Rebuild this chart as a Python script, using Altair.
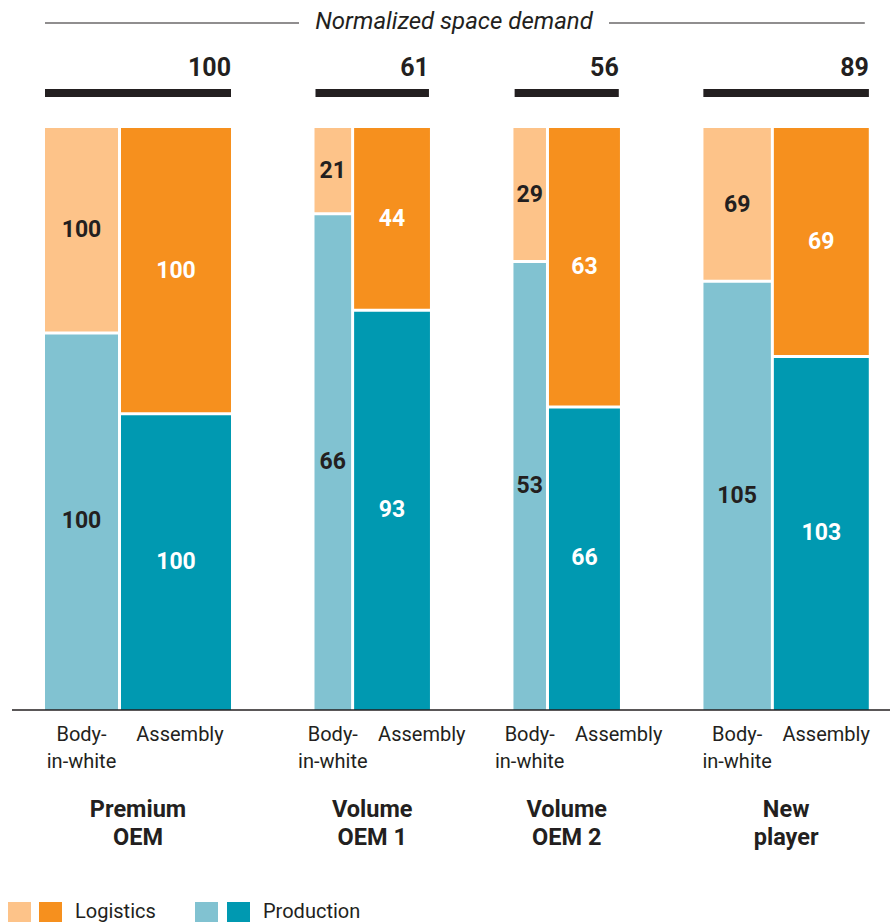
import altair as alt
import pandas as pd

# ---------------- data ----------------
groups = ["Premium OEM", "Volume OEM 1", "Volume OEM 2", "New player"]
group_line1 = ["Premium", "Volume", "Volume", "New"]
group_line2 = ["OEM", "OEM 1", "OEM 2", "player"]
totals = [100, 61, 56, 89]
biw_production = [100, 66, 53, 105]
biw_logistics = [100, 21, 29, 69]
asm_production = [100, 93, 66, 103]
asm_logistics = [100, 44, 63, 69]
# absolute space of the premium OEM (index = 100), read from the rectangle areas
premium_space = {"biw_prod": 47.3, "biw_log": 25.7, "asm_prod": 56.0, "asm_log": 54.0}
process_line1 = ["Body-", "Assembly"]
process_line2 = ["in-white", ""]
legend_labels = ["Logistics", "Production"]

# ---------------- style / layout ----------------
FONT = "Roboto"
DARK = "#231f20"
COL = {"biw_log": "#fdc389", "asm_log": "#f6901e", "biw_prod": "#81c2d1", "asm_prod": "#0099b1"}
W, H = 890, 922
X_START = 45
BAR_GAP = 3
GROUP_GAP = 83.5
Y_TOP, Y_BOT = 128, 710
SEG_GAP = 3 / (Y_BOT - Y_TOP)

rects, segtext, procs, grps = [], [], [], []
x = X_START
for i, g in enumerate(groups):
    bp = biw_production[i] * premium_space["biw_prod"] / 100
    bl = biw_logistics[i] * premium_space["biw_log"] / 100
    ap = asm_production[i] * premium_space["asm_prod"] / 100
    al = asm_logistics[i] * premium_space["asm_log"] / 100
    bw, aw = bp + bl, ap + al
    bx0, bx1 = x, x + bw
    ax0, ax1 = bx1 + BAR_GAP, bx1 + BAR_GAP + aw
    for (x0, x1, prod, log, kp, kl, tc, vp, vl) in [
        (bx0, bx1, bp, bl, "biw_prod", "biw_log", DARK, biw_production[i], biw_logistics[i]),
        (ax0, ax1, ap, al, "asm_prod", "asm_log", "white", asm_production[i], asm_logistics[i]),
    ]:
        f = prod / (prod + log)
        rects.append(dict(x0=x0, x1=x1, y0=0, y1=f - SEG_GAP / 2, key=kp))
        rects.append(dict(x0=x0, x1=x1, y0=f + SEG_GAP / 2, y1=1, key=kl))
        segtext.append(dict(xc=(x0 + x1) / 2, ym=f / 2, label=str(vp), tc=tc))
        segtext.append(dict(xc=(x0 + x1) / 2, ym=(f + 1) / 2, label=str(vl), tc=tc))
    bc = (bx0 + bx1) / 2
    ac = max((ax0 + ax1) / 2 + 4, bc + 89)
    procs.append(dict(xc=bc, l1=process_line1[0], l2=process_line2[0]))
    procs.append(dict(xc=ac, l1=process_line1[1], l2=process_line2[1]))
    grps.append(dict(g=g, gx0=bx0, gx1=ax1, gc=(bx0 + ax1) / 2,
                     l1=group_line1[i], l2=group_line2[i], total=totals[i]))
    x = ax1 + GROUP_GAP

rect_df = pd.DataFrame(rects)
seg_df = pd.DataFrame(segtext)
proc_df = pd.DataFrame(procs)
grp_df = pd.DataFrame(grps)
ref_w = grp_df.gx1[0] - grp_df.gx0[0]
grp_df["bw"] = grp_df.total / totals[0] * ref_w
grp_df["tb0"] = grp_df.gc - grp_df.bw / 2
grp_df["tb1"] = grp_df.gc + grp_df.bw / 2

x_left, x_right = grp_df.gx0.min(), grp_df.gx1.max() - 4
title_c = 454
title_df = pd.DataFrame([dict(x=title_c, t="Normalized space demand")])
tline_df = pd.DataFrame([dict(a=x_left, b=title_c - 155), dict(a=title_c + 155, b=x_right)])
base_df = pd.DataFrame([dict(a=12, b=W)])

leg_sq = pd.DataFrame([
    dict(a=8, b=31, key="biw_log"), dict(a=39, b=62, key="asm_log"),
    dict(a=195, b=218, key="biw_prod"), dict(a=227, b=250, key="asm_prod"),
])
leg_tx = pd.DataFrame([dict(x=75, t=legend_labels[0]), dict(x=263, t=legend_labels[1])])

xs = alt.Scale(domain=[0, W], nice=False, zero=False)
ys = alt.Scale(domain=[0, 1], range=[Y_BOT, Y_TOP], nice=False, zero=False)
cs = alt.Scale(domain=list(COL.keys()), range=list(COL.values()))

bars = alt.Chart(rect_df).mark_rect().encode(
    x=alt.X("x0:Q", scale=xs, axis=None), x2="x1:Q",
    y=alt.Y("y0:Q", scale=ys, axis=None), y2="y1:Q",
    color=alt.Color("key:N", scale=cs, legend=None),
)
seg_labels = alt.Chart(seg_df).mark_text(font=FONT, fontSize=23, fontWeight="bold", baseline="middle").encode(
    x=alt.X("xc:Q", scale=xs), y=alt.Y("ym:Q", scale=ys), text="label:N",
    color=alt.Color("tc:N", scale=None),
)
tot_bars = alt.Chart(grp_df).mark_rect(color=DARK).encode(
    x=alt.X("tb0:Q", scale=xs), x2="tb1:Q", y=alt.value(89), y2=alt.value(97)
)
tot_text = alt.Chart(grp_df).mark_text(font=FONT, fontSize=25, fontWeight="bold", align="right",
                                       baseline="alphabetic", color=DARK).encode(
    x=alt.X("tb1:Q", scale=xs), y=alt.value(76), text="total:N"
)
baseline = alt.Chart(base_df).mark_rule(color=DARK, strokeWidth=1.5).encode(
    x=alt.X("a:Q", scale=xs), x2="b:Q", y=alt.value(710)
)
title = alt.Chart(title_df).mark_text(font=FONT, fontSize=24, fontStyle="italic", color=DARK,
                                      baseline="middle").encode(
    x=alt.X("x:Q", scale=xs), y=alt.value(22), text="t:N"
)
tlines = alt.Chart(tline_df).mark_rule(color=DARK, strokeWidth=1.2).encode(
    x=alt.X("a:Q", scale=xs), x2="b:Q", y=alt.value(23)
)
proc1 = alt.Chart(proc_df).mark_text(font=FONT, fontSize=20, color=DARK, baseline="middle").encode(
    x=alt.X("xc:Q", scale=xs), y=alt.value(735), text="l1:N"
)
proc2 = alt.Chart(proc_df).mark_text(font=FONT, fontSize=20, color=DARK, baseline="middle").encode(
    x=alt.X("xc:Q", scale=xs), y=alt.value(762), text="l2:N"
)
g1 = alt.Chart(grp_df).mark_text(font=FONT, fontSize=23.5, fontWeight="bold", color=DARK, baseline="middle").encode(
    x=alt.X("gc:Q", scale=xs), y=alt.value(810), text="l1:N"
)
g2 = alt.Chart(grp_df).mark_text(font=FONT, fontSize=23.5, fontWeight="bold", color=DARK, baseline="middle").encode(
    x=alt.X("gc:Q", scale=xs), y=alt.value(838), text="l2:N"
)
lsq = alt.Chart(leg_sq).mark_rect().encode(
    x=alt.X("a:Q", scale=xs), x2="b:Q", y=alt.value(902), y2=alt.value(926),
    color=alt.Color("key:N", scale=cs, legend=None),
)
ltx = alt.Chart(leg_tx).mark_text(font=FONT, fontSize=20, color=DARK, align="left", baseline="middle").encode(
    x=alt.X("x:Q", scale=xs), y=alt.value(912), text="t:N"
)

chart = alt.layer(
    bars, seg_labels, tot_bars, tot_text, baseline, title, tlines,
    proc1, proc2, g1, g2, lsq, ltx
).properties(
    width=W, height=H, autosize=alt.AutoSizeParams(type="none"), padding=0
).configure(background="white").configure_view(stroke=None)

chart.save("out.html", embed_options={"renderer": "svg", "actions": False})
